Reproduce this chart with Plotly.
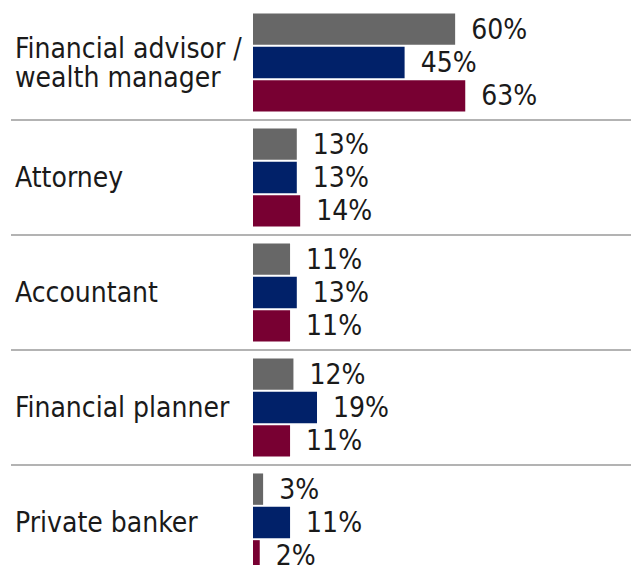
import plotly.graph_objects as go

# Survey responses: share of respondents naming each advisor type
categories = ["Financial advisor /<br>wealth manager", "Attorney", "Accountant",
              "Financial planner", "Private banker"]
series_names = ["Series A", "Series B", "Series C"]
series_a = [60, 13, 11, 12, 3]
series_b = [45, 13, 13, 19, 11]
series_c = [63, 14, 11, 11, 2]

colors = ["#676767", "#012169", "#780032"]
font_family = "DejaVu Sans Condensed"
font_size = 28
line_step = 29  # px between wrapped label lines
positions = list(range(len(categories)))

fig = go.Figure()
for name, vals, col in zip(series_names, [series_a, series_b, series_c], colors):
    fig.add_trace(go.Bar(
        x=vals, y=positions, orientation="h", name=name,
        marker=dict(color=col, line=dict(width=0)),
        text=vals, texttemplate="\u00a0\u2009%{x}%", textposition="outside",
        textfont=dict(family=font_family, size=font_size, color="#1a1a1a"),
        constraintext="none", cliponaxis=False,
    ))

# Category labels on the left (wrapped lines placed individually for tight spacing)
for i, cat in enumerate(categories):
    lines = cat.split("<br>")
    n = len(lines)
    for j, line in enumerate(lines):
        fig.add_annotation(
            x=13 / 631, xref="paper", xanchor="left",
            y=i, yref="y", yanchor="middle",
            yshift=((n - 1) / 2 - j) * line_step,
            text=line, showarrow=False, align="left",
            font=dict(family=font_family, size=font_size, color="#1a1a1a"),
        )

# Separators between category groups
for i in range(len(categories) - 1):
    fig.add_shape(
        type="line", xref="paper", yref="y",
        x0=11 / 631, x1=1, y0=i + 0.5, y1=i + 0.5,
        line=dict(color="#b3b3b3", width=2),
    )

fig.update_layout(
    width=631, height=565,
    margin=dict(l=0, r=0, t=0, b=0),
    barmode="group", bargap=0.13, bargroupgap=0.06,
    plot_bgcolor="white", paper_bgcolor="white",
    showlegend=False,
    xaxis=dict(domain=[253 / 631, 1], range=[0, 112.2], visible=False),
    yaxis=dict(range=[4.3696, -0.5435], visible=False),
)

fig.write_html("out.html")
